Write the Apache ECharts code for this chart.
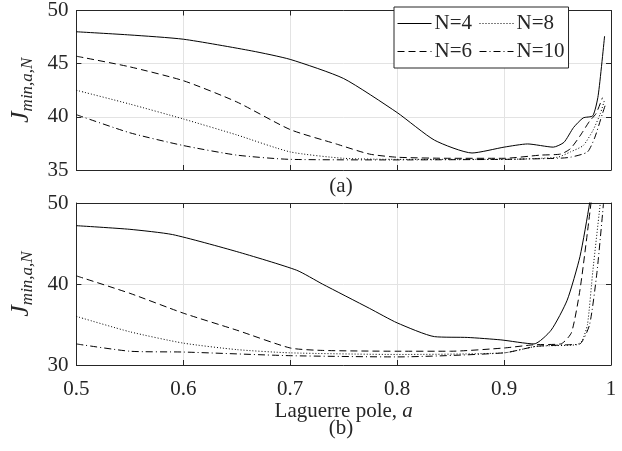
<!DOCTYPE html>
<html>
<head>
<meta charset="utf-8">
<script src="https://cdn.jsdelivr.net/npm/echarts@6/dist/echarts.min.js"></script>
<style>
    html, body { margin: 0; padding: 0; background: #fff; }
    #chart { width: 622px; height: 451px; }
</style>
</head>
<body>
<div id="chart"></div>
<script>
    // (a) top panel
    var aX4  = [0.5, 0.55, 0.6, 0.664, 0.7, 0.75, 0.8, 0.835, 0.87, 0.9, 0.922, 0.946, 0.956, 0.965, 0.974, 0.983, 0.988, 0.994];
    var aY4  = [48.0, 47.7, 47.3, 46.2, 45.4, 43.6, 40.4, 37.8, 36.6, 37.15, 37.45, 37.15, 37.6, 39.0, 39.9, 40.1, 42.0, 47.6];
    var aX6  = [0.5, 0.55, 0.6, 0.65, 0.7, 0.743, 0.774, 0.8, 0.85, 0.9, 0.934, 0.953, 0.962, 0.971, 0.98, 0.986, 0.992];
    var aY6  = [45.7, 44.7, 43.4, 41.4, 38.8, 37.45, 36.5, 36.2, 36.1, 36.1, 36.4, 36.5, 37.0, 38.2, 39.6, 40.3, 41.8];
    var aX8  = [0.5, 0.55, 0.6, 0.65, 0.7, 0.75, 0.8, 0.9, 0.95, 0.962, 0.974, 0.983, 0.99, 0.994];
    var aY8  = [42.5, 41.2, 39.8, 38.3, 36.7, 36.1, 36.0, 36.0, 36.2, 36.7, 37.3, 38.7, 40.3, 41.6];
    var aX10 = [0.5, 0.55, 0.6, 0.65, 0.7, 0.8, 0.9, 0.95, 0.962, 0.978, 0.985, 0.992, 0.995];
    var aY10 = [40.2, 38.5, 37.3, 36.4, 36.0, 35.95, 36.0, 36.1, 36.2, 36.7, 38.1, 40.3, 41.2];

    // (b) bottom panel
    var bX4  = [0.5, 0.55, 0.59, 0.65, 0.706, 0.73, 0.774, 0.8, 0.835, 0.866, 0.897, 0.928, 0.944, 0.959, 0.971, 0.98, 0.985];
    var bY4  = [47.2, 46.75, 46.1, 44.0, 41.7, 40.0, 37.0, 35.2, 33.5, 33.4, 33.1, 32.6, 34.3, 38.0, 43.4, 50.0, 55.0];
    var bX6  = [0.5, 0.55, 0.6, 0.65, 0.7, 0.73, 0.8, 0.85, 0.9, 0.928, 0.953, 0.963, 0.971, 0.979, 0.984];
    var bY6  = [41.0, 38.85, 36.4, 34.3, 32.1, 31.8, 31.7, 31.7, 32.1, 32.5, 32.6, 34.0, 39.3, 47.5, 53.0];
    var bX8  = [0.5, 0.55, 0.6, 0.65, 0.7, 0.8, 0.9, 0.93, 0.968, 0.973, 0.978, 0.983, 0.99];
    var bY8  = [36.0, 34.1, 32.7, 31.9, 31.5, 31.3, 31.5, 32.3, 32.5, 33.0, 35.0, 41.6, 50.0];
    var bX10 = [0.5, 0.55, 0.6, 0.7, 0.8, 0.9, 0.93, 0.96, 0.971, 0.98, 0.987, 0.993];
    var bY10 = [32.6, 31.7, 31.6, 31.15, 31.0, 31.5, 32.3, 32.5, 32.6, 35.0, 41.6, 50.0];

    var names = ['N=4', 'N=6', 'N=8', 'N=10'];
    var dashes = ['solid', [7, 4], [1, 2], [7, 3, 1, 3]];

    var FONT = '"Liberation Serif", "DejaVu Serif", serif';
    var FS = 21;
    var INK = '#262626';

    function pairs(xs, ys) {
        var out = [];
        for (var i = 0; i < xs.length; i++) out.push([xs[i], ys[i]]);
        return out;
    }

    var chart = echarts.init(document.getElementById('chart'));

    function mainX(grid, showLabel, name) {
        return {
            type: 'value', gridIndex: grid, min: 0.5, max: 1, interval: 0.1,
            axisLine: { lineStyle: { color: INK, width: 1 } },
            axisTick: { inside: true, length: 5, lineStyle: { color: INK } },
            axisLabel: { show: showLabel, color: INK, fontFamily: FONT, fontSize: FS, margin: 14 },
            splitLine: { show: true, lineStyle: { color: '#e3e3e3', width: 1 } },
            name: name || '', nameLocation: 'middle', nameGap: 30,
            nameTextStyle: {
                color: INK, fontFamily: FONT, fontSize: FS,
                rich: { i: { fontStyle: 'italic', fontFamily: FONT, fontSize: FS, color: INK } }
            }
        };
    }
    function boxX(grid) {
        return {
            type: 'value', gridIndex: grid, min: 0.5, max: 1, interval: 0.1, position: 'top',
            axisLine: { lineStyle: { color: INK, width: 1 } },
            axisTick: { inside: true, length: 5, lineStyle: { color: INK } },
            axisLabel: { show: false }, splitLine: { show: false }
        };
    }
    function mainY(grid, min, max, step) {
        return {
            type: 'value', gridIndex: grid, min: min, max: max, interval: step,
            axisLine: { show: true, lineStyle: { color: INK, width: 1 } },
            axisTick: { show: true, inside: true, length: 5, lineStyle: { color: INK } },
            axisLabel: { color: INK, fontFamily: FONT, fontSize: FS, margin: 8 },
            splitLine: { show: true, lineStyle: { color: '#e3e3e3', width: 1 } },
            name: '{j|J}{s|min,a,N}', nameLocation: 'middle', nameRotate: 90, nameGap: 20,
            nameTextStyle: {
                rich: {
                    j: { fontStyle: 'italic', fontFamily: FONT, fontSize: 26, color: INK },
                    s: { fontStyle: 'italic', fontFamily: FONT, fontSize: 17, color: INK, padding: [14, 0, 0, 0] }
                }
            }
        };
    }
    function boxY(grid, min, max, step) {
        return {
            type: 'value', gridIndex: grid, min: min, max: max, interval: step, position: 'right',
            axisLine: { show: true, lineStyle: { color: INK, width: 1 } },
            axisTick: { show: true, inside: true, length: 5, lineStyle: { color: INK } },
            axisLabel: { show: false }, splitLine: { show: false }
        };
    }

    function line(name, idx, data, axis) {
        return {
            name: name, type: 'line', xAxisIndex: axis, yAxisIndex: axis,
            data: data, showSymbol: false, symbol: 'none', smooth: 0.2,
            color: '#000', clip: true, animation: false,
            lineStyle: { color: '#000', width: 1, type: dashes[idx] }
        };
    }

    var option = {
        animation: false,
        backgroundColor: '#fff',
        grid: [
            { left: 71, right: 11, top: 7, height: 163 },
            { left: 71, right: 11, top: 203, height: 162 }
        ],
        xAxis: [mainX(0, false), mainX(1, true, 'Laguerre pole, {i|a}'), boxX(0), boxX(1)],
        yAxis: [mainY(0, 35, 50, 5), mainY(1, 30, 50, 10), boxY(0, 35, 50, 5), boxY(1, 30, 50, 10)],
        legend: {
            data: ['N=4', 'N=8', 'N=6', 'N=10'],
            left: 394, top: 7, width: 182, orient: 'horizontal',
            itemWidth: 34, itemHeight: 10, itemGap: 7,
            padding: [6, 4, 6, 3],
            itemStyle: { opacity: 0 },
            lineStyle: { width: 1 },
            borderColor: INK, borderWidth: 1, backgroundColor: '#fff',
            textStyle: { color: INK, fontFamily: FONT, fontSize: FS, lineHeight: 15, padding: [0, 0, 0, -2] }
        },
        graphic: [
            { type: 'text', x: 341, y: 186, style: { text: '(a)', font: FS + 'px ' + FONT, fill: INK, align: 'center', verticalAlign: 'middle' } },
            { type: 'text', x: 341, y: 428, style: { text: '(b)', font: FS + 'px ' + FONT, fill: INK, align: 'center', verticalAlign: 'middle' } }
        ],
        series: [
            line(names[0], 0, pairs(aX4, aY4), 0),
            line(names[1], 1, pairs(aX6, aY6), 0),
            line(names[2], 2, pairs(aX8, aY8), 0),
            line(names[3], 3, pairs(aX10, aY10), 0),
            line(names[0], 0, pairs(bX4, bY4), 1),
            line(names[1], 1, pairs(bX6, bY6), 1),
            line(names[2], 2, pairs(bX8, bY8), 1),
            line(names[3], 3, pairs(bX10, bY10), 1)
        ]
    };

    chart.setOption(option);
</script>
</body>
</html>
